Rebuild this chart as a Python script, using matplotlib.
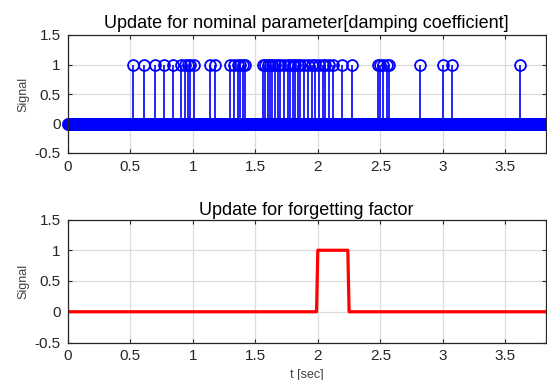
import numpy as np
import matplotlib
matplotlib.use("Agg")
import matplotlib.pyplot as plt

plt.rcParams['font.family'] = ['Liberation Sans', 'DejaVu Sans']

# ---- data ----
dt = 0.005
t_end = 3.82
update_times = [0.52, 0.61, 0.70, 0.77, 0.84, 0.91, 0.94, 0.96, 0.98, 1.01,
                1.14, 1.18,
                1.30, 1.33, 1.36, 1.38, 1.40, 1.42,
                1.56, 1.58, 1.60, 1.62, 1.63, 1.66, 1.68, 1.70, 1.73, 1.76,
                1.78, 1.80, 1.82, 1.84, 1.86, 1.89, 1.92, 1.95, 1.98, 2.01,
                2.04, 2.06, 2.09, 2.12, 2.19, 2.27,
                2.48, 2.50, 2.52, 2.55, 2.57,
                2.82, 3.00, 3.07, 3.62]
ff_t = [0.0, 1.99, 2.00, 2.24, 2.25, 3.82]
ff_val = [0, 0, 1, 1, 0, 0]

x_ticks = [0, 0.5, 1, 1.5, 2, 2.5, 3, 3.5]
x_ticklabels = ['0', '0.5', '1', '1.5', '2', '2.5', '3', '3.5']
y_ticks = [-0.5, 0, 0.5, 1, 1.5]
y_ticklabels = ['-0.5', '0', '0.5', '1', '1.5']

t = np.round(np.arange(0, t_end + dt / 2, dt), 3)
sig = np.zeros_like(t)
for ut in update_times:
    sig[np.argmin(np.abs(t - ut))] = 1

W, H = 547, 380
fig = plt.figure(figsize=(W / 100, H / 100), dpi=100)

left = 67.6 / W
width = (545.5 - 67.6) / W
ax1 = fig.add_axes([left, 1 - 153 / H, width, (153 - 35) / H])
ax2 = fig.add_axes([left, 1 - 342.5 / H, width, (342.5 - 219.5) / H])

def style(ax):
    ax.set_xlim(0, t_end)
    ax.set_ylim(-0.5, 1.5)
    ax.set_xticks(x_ticks)
    ax.set_xticklabels(x_ticklabels)
    ax.set_yticks(y_ticks)
    ax.set_yticklabels(y_ticklabels)
    ax.grid(True, color='#dcdcdc', linewidth=0.9)
    ax.set_axisbelow(True)
    ax.tick_params(direction='in', length=3, width=0.8, labelsize=11,
                   top=True, right=True, colors='#262626', pad=5)
    for s in ax.spines.values():
        s.set_color('#262626')
        s.set_linewidth(0.9)
    ax.set_ylabel('Signal', fontsize=9, color='#404040', labelpad=4)

style(ax1)
markerline, stemlines, baseline = ax1.stem(t, sig, linefmt='b-', markerfmt='bo', basefmt='b-')
markerline.set_markerfacecolor('none')
markerline.set_markeredgecolor((0, 0, 1))
markerline.set_markersize(7.8)
markerline.set_markeredgewidth(1.3)
markerline.set_clip_on(False)
stemlines.set_linewidth(1.2)
stemlines.set_color((0, 0, 1))
baseline.set_color((0, 0, 1))
ax1.set_title('Update for nominal parameter[damping coefficient]', fontsize=13, pad=5)

style(ax2)
ax2.plot(ff_t, ff_val, color=(1, 0, 0), linewidth=2.3)
ax2.set_title('Update for forgetting factor', fontsize=13, pad=3.5)
ax2.set_xlabel('t [sec]', fontsize=9, color='#404040', labelpad=4)

fig.savefig('out.png', dpi=100)
